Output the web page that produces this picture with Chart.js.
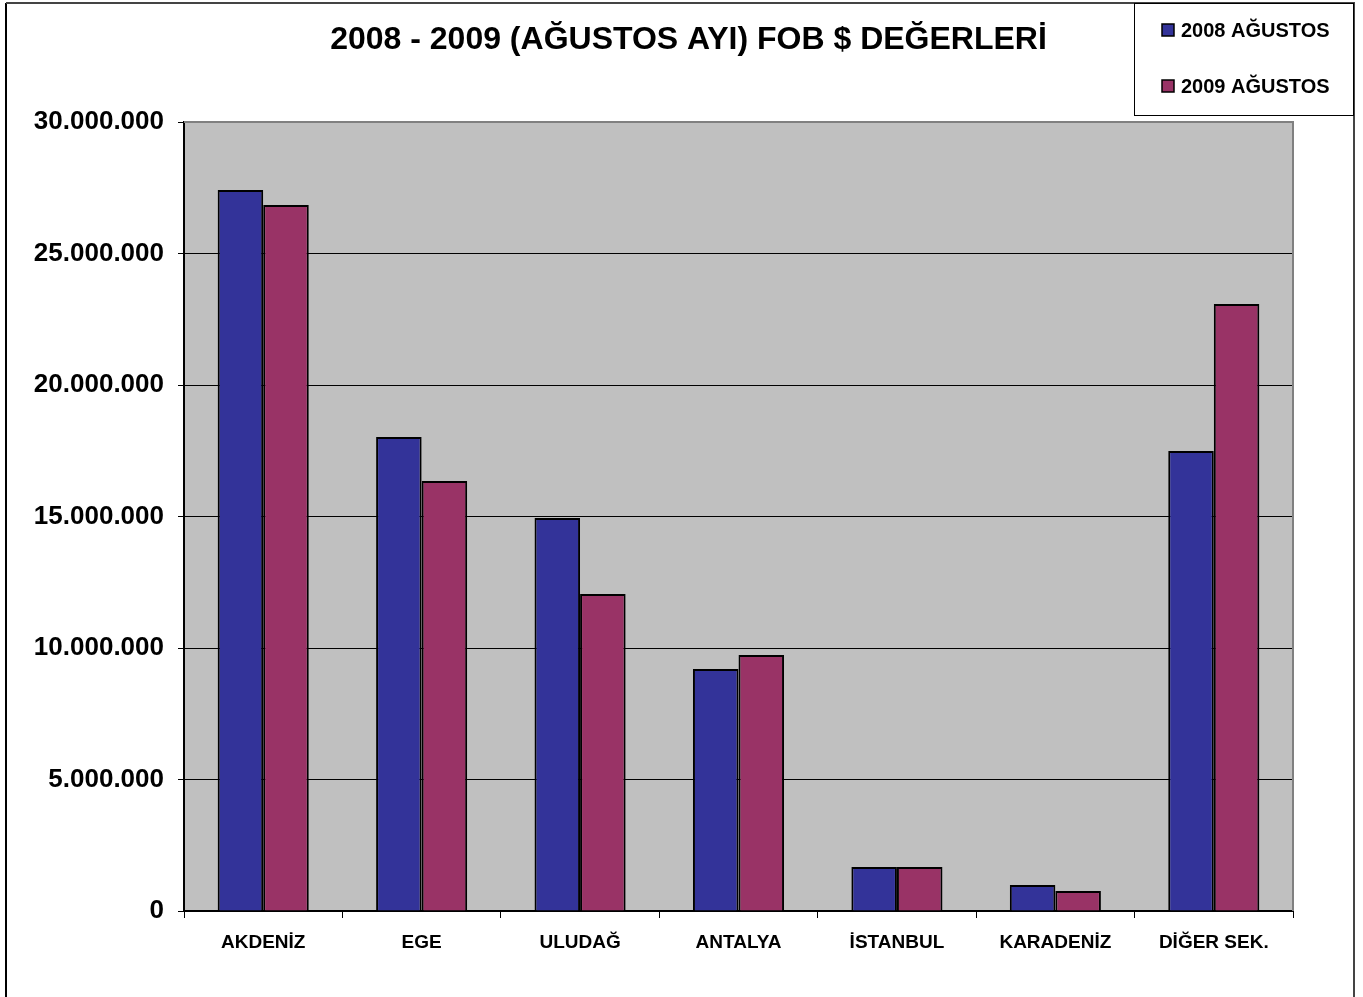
<!DOCTYPE html>
<html>
<head>
<meta charset="utf-8">
<script src="https://cdn.jsdelivr.net/npm/chart.js@4/dist/chart.umd.min.js"></script>
<style>
html,body{margin:0;padding:0;background:#fff;}
#wrap{width:1363px;height:997px;position:relative;}
</style>
</head>
<body>
<div id="wrap"><canvas id="c" width="1363" height="997"></canvas></div>
<script>
const categories = ["AKDENİZ", "EGE", "ULUDAĞ", "ANTALYA", "İSTANBUL", "KARADENİZ", "DİĞER SEK."];
const seriesNames = ["2008 AĞUSTOS", "2009 AĞUSTOS"];
const values2008 = [27410000, 18020000, 14940000, 9200000, 1670000, 990000, 17490000];
const values2009 = [26840000, 16350000, 12050000, 9730000, 1670000, 760000, 23080000];
const seriesColors = ["#333399", "#993366"];
const titleText = "2008 - 2009 (AĞUSTOS AYI) FOB $ DEĞERLERİ";
const yMax = 30000000, yStep = 5000000;

const FONT = "'Liberation Sans', Arial, sans-serif";

function fmt(v){
  return String(Math.round(v)).replace(/\B(?=(\d{3})+(?!\d))/g, ".");
}

const decor = {
  id: 'decor',
  beforeDraw(chart){
    const ctx = chart.ctx, a = chart.chartArea;
    ctx.save();
    ctx.fillStyle = '#fff';
    ctx.fillRect(0,0,chart.width,chart.height);
    ctx.fillStyle = '#C0C0C0';
    ctx.fillRect(a.left, a.top, a.right-a.left, a.bottom-a.top);
    ctx.restore();
  },
  afterDatasetsDraw(chart){
    const ctx = chart.ctx, a = chart.chartArea;
    ctx.save();
    ctx.strokeStyle = '#808080';
    ctx.lineWidth = 2;
    ctx.beginPath();
    ctx.moveTo(a.left, a.top); ctx.lineTo(a.right, a.top); ctx.lineTo(a.right, a.bottom);
    ctx.stroke();
    ctx.lineWidth = 2;
    ctx.strokeStyle = '#000';
    ctx.beginPath(); ctx.moveTo(6, 1000); ctx.lineTo(6, 3); ctx.stroke();
    ctx.strokeStyle = '#444';
    ctx.beginPath(); ctx.moveTo(6, 3); ctx.lineTo(1354, 3); ctx.lineTo(1354, 1000); ctx.stroke();
    ctx.strokeStyle = '#000';
    ctx.lineWidth = 1;
    ctx.fillStyle = '#fff';
    ctx.fillRect(1134.5, 3.5, 219, 112);
    ctx.strokeRect(1134.5, 3.5, 219, 112);
    const ys = [30, 86];
    chart.data.datasets.forEach((ds, i) => {
      const y = ys[i];
      ctx.fillStyle = ds.backgroundColor;
      ctx.fillRect(1162, y-6, 12, 12);
      ctx.lineWidth = 1.5;
      ctx.strokeStyle = '#000';
      ctx.strokeRect(1162, y-6, 12, 12);
      ctx.fillStyle = '#000';
      ctx.font = "bold 20px " + FONT;
      ctx.textBaseline = 'middle';
      ctx.textAlign = 'left';
      ctx.fillText(ds.label, 1181, y+1);
    });
    ctx.restore();
  }
};

new Chart(document.getElementById('c'), {
  type: 'bar',
  data: {
    labels: categories,
    datasets: [
      {label: seriesNames[0], data: values2008, backgroundColor: seriesColors[0], borderColor: '#000', borderWidth: 2},
      {label: seriesNames[1], data: values2009, backgroundColor: seriesColors[1], borderColor: '#000', borderWidth: 2}
    ]
  },
  options: {
    responsive: false,
    animation: false,
    devicePixelRatio: 1,
    layout: {padding: {left: 14, right: 0, top: 0, bottom: 0}},
    datasets: {bar: {categoryPercentage: 0.575, barPercentage: 1.0}},
    plugins: {
      legend: {display: false},
      tooltip: {enabled: false},
      title: {
        display: true,
        text: titleText,
        color: '#000',
        font: {family: FONT, size: 32, weight: 'bold', lineHeight: 1.2},
        padding: {top: 21, bottom: 62.6}
      }
    },
    scales: {
      x: {
        offset: true,
        grid: {offset: true, drawOnChartArea: false, drawTicks: true, tickLength: 7, color: '#000', lineWidth: 1},
        border: {color: '#000', width: 2},
        ticks: {color: '#000', font: {family: FONT, size: 19, weight: 'bold'}, padding: 13, maxRotation: 0},
        afterFit(s){ s.height = 86; }
      },
      y: {
        min: 0, max: yMax,
        ticks: {stepSize: yStep, color: '#000', font: {family: FONT, size: 26, weight: 'bold'}, padding: 14, callback: v => fmt(v)},
        grid: {color: '#000', lineWidth: 1, tickLength: 6, tickColor: '#000'},
        border: {color: '#000', width: 2},
        afterFit(s){ s.width = 170; }
      },
      yr: {
        position: 'right',
        min: 0, max: yMax,
        grid: {display: false, drawOnChartArea: false},
        border: {display: false},
        ticks: {display: false},
        afterFit(s){ s.width = 70; }
      }
    }
  },
  plugins: [decor]
});
</script>
</body>
</html>
